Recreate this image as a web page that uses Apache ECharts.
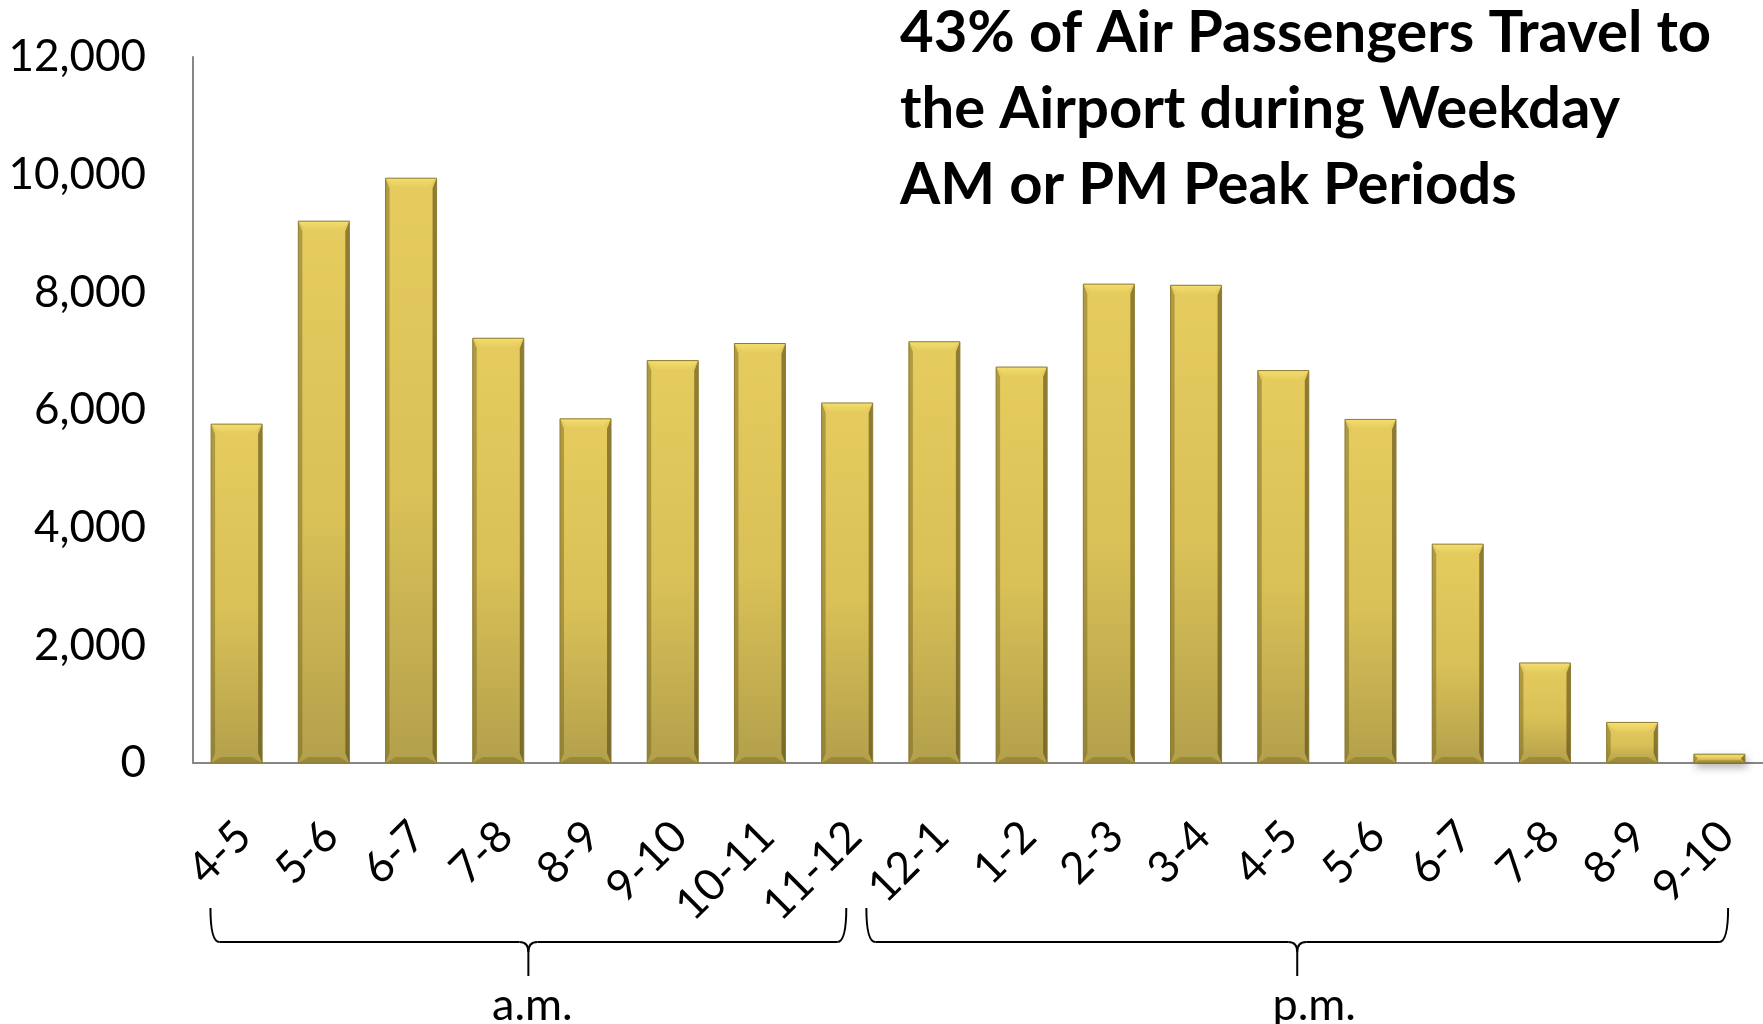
<!DOCTYPE html>
<html>
<head>
<meta charset="utf-8">
<title>Air passengers by hour</title>
<script src="https://cdn.jsdelivr.net/npm/echarts@6/dist/echarts.min.js"></script>
<style>
  html, body { margin: 0; padding: 0; background: #ffffff; }
  #chart { width: 1763px; height: 1024px; }
</style>
</head>
<body>
<div id="chart"></div>
<script>
// Hourly time slots (a.m. then p.m.)
const hours = ['4-5', '5-6', '6-7', '7-8', '8-9', '9-10', '10-11', '11-12',
               '12-1', '1-2', '2-3', '3-4', '4-5', '5-6', '6-7', '7-8', '8-9', '9-10'];

// Air passengers travelling to the airport in each hour
const passengers = [5760, 9210, 9940, 7220, 5850, 6840, 7130, 6120,
                    7160, 6730, 8140, 8120, 6670, 5840, 3720, 1700, 690, 150];

// Value axis ticks
const yTicks = [0, 2000, 4000, 6000, 8000, 10000, 12000];

// Period groupings under the hour labels (first / last slot index)
const periods = [
  { label: 'a.m.', first: 0, last: 7 },
  { label: 'p.m.', first: 8, last: 17 }
];

const titleLines = [
  '43% of Air Passengers Travel to',
  'the Airport during Weekday',
  'AM or PM Peak Periods'
];

const FONT = 'Lato, "Open Sans", "DejaVu Sans", sans-serif';
const chart = echarts.init(document.getElementById('chart'), null, { renderer: 'canvas' });

// Bevelled gold bar
function renderBar(params, api) {
  const idx = api.value(0);
  const val = api.value(1);
  const top = api.coord([idx, val]);
  const base = api.coord([idx, 0]);
  const band = api.size([1, 0])[0];
  const w = band * 0.585;
  const x = top[0] - w / 2;
  const y = top[1];
  const h = base[1] - top[1];
  const b = Math.min(10, h / 2);
  const side = Math.min(4, w / 6);
  return {
    type: 'group',
    children: [
      {
        type: 'rect',
        shape: { x: x, y: y, width: w, height: h },
        style: {
          fill: { type: 'linear', x: 0, y: 0, x2: 0, y2: 1,
                  colorStops: [{ offset: 0, color: '#E6CC5E' }, { offset: 0.55, color: '#D9C057' }, { offset: 1, color: '#B3A04B' }] },
          shadowBlur: 8, shadowOffsetX: 2, shadowOffsetY: 4, shadowColor: 'rgba(0,0,0,0.35)'
        }
      },
      {
        type: 'polygon',
        shape: { points: [[x, y], [x + w, y], [x + w - b, y + b], [x + b, y + b]] },
        style: { fill: { type: 'linear', x: 0, y: 0, x2: 0, y2: 1,
                         colorStops: [{ offset: 0, color: '#F3DE6E' }, { offset: 1, color: '#E4CA5C' }] } }
      },
      {
        type: 'polygon',
        shape: { points: [[x, y], [x + side, y + b], [x + side, y + h - b], [x, y + h]] },
        style: { fill: 'rgba(110,95,30,0.45)' }
      },
      {
        type: 'polygon',
        shape: { points: [[x + w, y], [x + w - side, y + b], [x + w - side, y + h - b], [x + w, y + h]] },
        style: { fill: 'rgba(85,72,20,0.6)' }
      },
      {
        type: 'polygon',
        shape: { points: [[x, y + h], [x + w, y + h], [x + w - b, y + h - b * 0.6], [x + b, y + h - b * 0.6]] },
        style: { fill: 'rgba(110,92,28,0.35)' }
      },
      {
        type: 'rect',
        shape: { x: x, y: y, width: w, height: h },
        style: { fill: 'none', stroke: '#8C7B33', lineWidth: 1 }
      }
    ]
  };
}

chart.setOption({
  animation: false,
  backgroundColor: '#ffffff',
  title: {
    text: titleLines.join('\n'),
    left: 900,
    top: -5,
    padding: 0,
    textStyle: { fontFamily: FONT, fontWeight: 'bold', fontSize: 58, lineHeight: 76, color: '#000000' }
  },
  grid: { left: 193, right: 0, top: 57, bottom: 261, outerBoundsMode: 'none', containLabel: false },
  xAxis: {
    type: 'category',
    data: hours,
    boundaryGap: true,
    axisLine: { show: true, lineStyle: { color: '#868686', width: 2 } },
    axisTick: { show: false },
    splitLine: { show: false },
    axisLabel: {
      interval: 0,
      rotate: 45,
      margin: 42,
      padding: [0, 12, 0, 0],
      verticalAlign: 'top',
      fontFamily: FONT,
      fontSize: 44,
      color: '#000000',
      hideOverlap: false
    }
  },
  yAxis: {
    type: 'value',
    min: yTicks[0],
    max: yTicks[yTicks.length - 1],
    interval: yTicks[1] - yTicks[0],
    axisLine: { show: true, lineStyle: { color: '#868686', width: 2 } },
    axisTick: { show: false },
    splitLine: { show: false },
    axisLabel: {
      margin: 47,
      fontFamily: FONT,
      fontSize: 44,
      color: '#000000',
      formatter: function (v) { return v.toLocaleString('en-US'); }
    }
  },
  series: [{
    type: 'custom',
    renderItem: renderBar,
    encode: { x: 0, y: 1 },
    data: passengers.map(function (v, i) { return [i, v]; }),
    z: 1
  }]
});

// Curly braces grouping the hours into a.m. / p.m.
function slotX(i) { return chart.convertToPixel({ xAxisIndex: 0 }, i); }
const bandW = slotX(1) - slotX(0);
const baseY = chart.convertToPixel({ yAxisIndex: 0 }, 0);
const yTop = baseY + 145, yMid = baseY + 179, yBot = baseY + 213;
const hook = 9;
const braceExtents = [
  { x0: slotX(periods[0].first) - 0.3 * bandW, x1: slotX(periods[0].last) - 0.01 * bandW, textShift: 4 },
  { x0: slotX(periods[1].first) - 0.78 * bandW, x1: slotX(periods[1].last) + 0.1 * bandW, textShift: 17 }
];
const lineStyle = { stroke: '#000000', lineWidth: 2, fill: 'none' };
const graphics = [];
periods.forEach(function (p, k) {
  const x0 = braceExtents[k].x0, x1 = braceExtents[k].x1;
  const xc = (x0 + x1) / 2;
  graphics.push(
    { type: 'bezierCurve', shape: { x1: x0, y1: yTop, cpx1: x0, cpy1: yMid, x2: x0 + hook, y2: yMid }, style: lineStyle },
    { type: 'line', shape: { x1: x0 + hook, y1: yMid, x2: xc - hook, y2: yMid }, style: lineStyle },
    { type: 'bezierCurve', shape: { x1: xc - hook, y1: yMid, cpx1: xc, cpy1: yMid, x2: xc, y2: yMid + 10 }, style: lineStyle },
    { type: 'bezierCurve', shape: { x1: xc + hook, y1: yMid, cpx1: xc, cpy1: yMid, x2: xc, y2: yMid + 10 }, style: lineStyle },
    { type: 'line', shape: { x1: xc, y1: yMid + 10, x2: xc, y2: yBot }, style: lineStyle },
    { type: 'line', shape: { x1: xc + hook, y1: yMid, x2: x1 - hook, y2: yMid }, style: lineStyle },
    { type: 'bezierCurve', shape: { x1: x1 - hook, y1: yMid, cpx1: x1, cpy1: yMid, x2: x1, y2: yTop }, style: lineStyle },
    { type: 'text', x: xc + braceExtents[k].textShift, y: baseY + 242,
      style: { text: p.label, fontFamily: FONT, fontSize: 45, fill: '#000000', align: 'center', verticalAlign: 'middle' } }
  );
});
chart.setOption({ graphic: graphics });
</script>
</body>
</html>
